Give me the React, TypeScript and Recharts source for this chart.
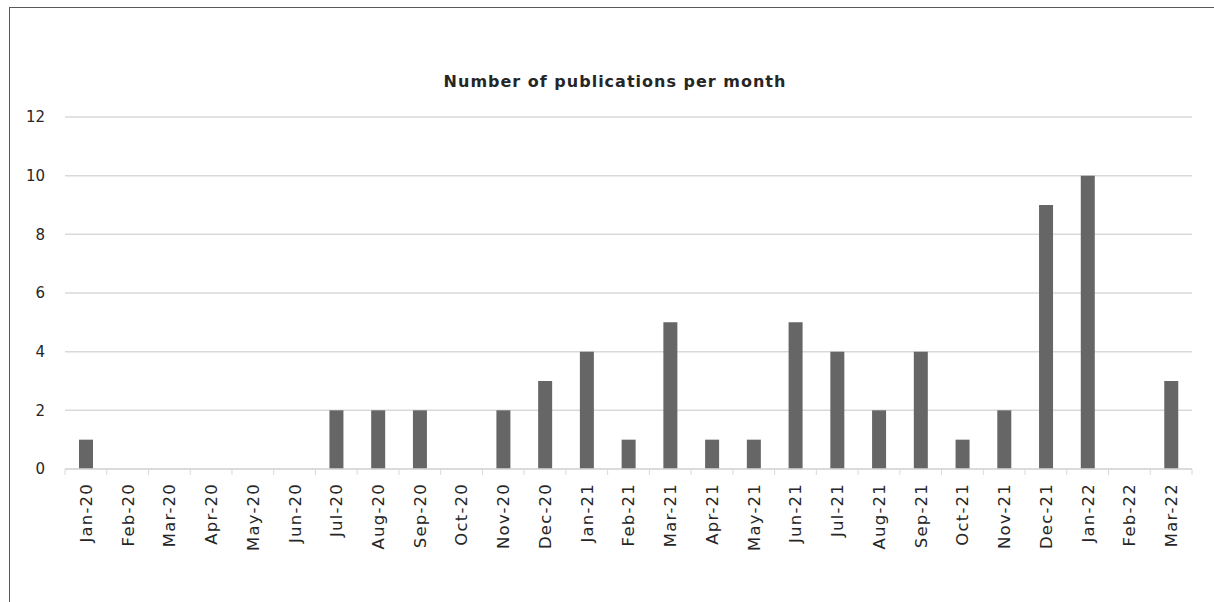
import { BarChart, Bar, XAxis, YAxis, CartesianGrid } from 'recharts'

const months = [
  'Jan-20', 'Feb-20', 'Mar-20', 'Apr-20', 'May-20', 'Jun-20', 'Jul-20', 'Aug-20', 'Sep-20',
  'Oct-20', 'Nov-20', 'Dec-20', 'Jan-21', 'Feb-21', 'Mar-21', 'Apr-21', 'May-21', 'Jun-21',
  'Jul-21', 'Aug-21', 'Sep-21', 'Oct-21', 'Nov-21', 'Dec-21', 'Jan-22', 'Feb-22', 'Mar-22',
]
const publications = [1, 0, 0, 0, 0, 0, 2, 2, 2, 0, 2, 3, 4, 1, 5, 1, 1, 5, 4, 2, 4, 1, 2, 9, 10, 0, 3]
const yTicks = [0, 2, 4, 6, 8, 10, 12]

const data = months.map((m, i) => ({ month: m, count: publications[i] }))

const FONT = '"DejaVu Sans", sans-serif'
const GRID = '#d9d9d9'

function MonthTick(props: any) {
  const { x, y, payload } = props
  const half = payload.offset ?? 20.9
  const last = payload.index === months.length - 1
  return (
    <g>
      <line x1={x - half} x2={x - half} y1={y} y2={y + 6} stroke={GRID} />
      {last && <line x1={x + half} x2={x + half} y1={y} y2={y + 6} stroke={GRID} />}
      <text
        x={x}
        y={y + 14}
        transform={`rotate(-90, ${x}, ${y + 14})`}
        textAnchor="end"
        dy="0.36em"
        fontFamily={FONT}
        fontSize={16.5}
        letterSpacing={1.2}
        fill="#262626"
      >
        {payload.value}
      </text>
    </g>
  )
}

export default function App() {
  return (
    <div
      style={{
        position: 'absolute',
        left: 9,
        top: 7,
        width: 1205,
        height: 595,
        borderLeft: '1px solid #595959',
        borderTop: '1px solid #595959',
        background: '#fff',
      }}
    >
      <div
        style={{
          position: 'absolute',
          left: 0,
          width: 1210,
          top: 64,
          textAlign: 'center',
          fontFamily: FONT,
          fontSize: 16,
          fontWeight: 'bold',
          letterSpacing: 1,
          color: '#262626',
        }}
      >
        Number of publications per month
      </div>
      <BarChart
        width={1204}
        height={594}
        data={data}
        margin={{ top: 109, right: 22, left: 0, bottom: 0 }}
        barCategoryGap={0}
      >
        <CartesianGrid vertical={false} stroke={GRID} strokeWidth={1.5} />
        <XAxis
          dataKey="month"
          interval={0}
          height={133}
          tickSize={0}
          tickMargin={0}
          tickLine={false}
          axisLine={{ stroke: GRID, strokeWidth: 1.5 }}
          tick={<MonthTick />}
        />
        <YAxis
          width={55}
          domain={[0, 12]}
          ticks={yTicks}
          axisLine={false}
          tickLine={false}
          tickSize={0}
          tickMargin={20}
          tick={{ fontFamily: FONT, fontSize: 15, fill: '#262626' }}
        />
        <Bar dataKey="count" fill="#666666" barSize={14} isAnimationActive={false} />
      </BarChart>
    </div>
  )
}
